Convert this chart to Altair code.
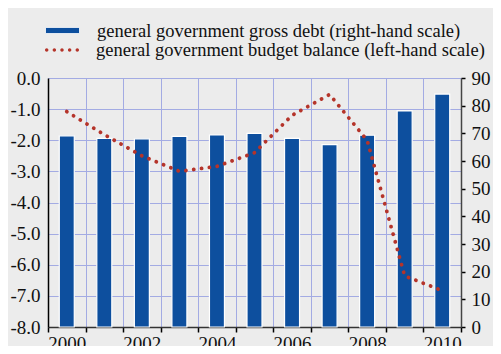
import altair as alt
import pandas as pd

years = [2000, 2001, 2002, 2003, 2004, 2005, 2006, 2007, 2008, 2009, 2010]
gross_debt = [69.1, 68.2, 68.0, 68.9, 69.4, 70.0, 68.2, 65.9, 69.3, 78.1, 84.2]
budget_balance = [-1.08, -1.82, -2.5, -3.0, -2.84, -2.4, -1.2, -0.53, -2.0, -6.36, -6.83]

debt_label = "general government gross debt (right-hand scale)"
bal_label = "general government budget balance (left-hand scale)"

df = pd.DataFrame({
    "year": years,
    "debt": gross_debt,
    "balance": budget_balance,
    "s_debt": [debt_label] * len(years),
    "s_bal": [bal_label] * len(years),
})

FONT = "Liberation Serif"
BLUE = "#0d4f9e"
RED = "#b5342a"
GRID = "#a3abe3"
BG = "#ececec"

xenc = alt.X(
    "year:O",
    title=None,
    scale=alt.Scale(paddingInner=0, paddingOuter=0),
    axis=alt.Axis(
        tickBand="extent",
        labelExpr="datum.value % 2 == 0 ? datum.label : ''",
        labelAngle=0,
        grid=True,
        gridColor=GRID,
        gridWidth=1,
        tickColor="black",
        tickSize=5,
        tickWidth=1.5,
        domainColor="#333333",
        domainWidth=1.5,
        labelFontSize=19,
        labelColor="#111111",
        labelPadding=2,
    ),
)

rect_path = "M-1,-0.18H1V0.18H-1Z"
r = 0.1
dots = ""
for cx in [-0.9, -0.45, 0.0, 0.45, 0.9]:
    dots += f"M{cx - r},0a{r},{r} 0 1,0 {2 * r},0a{r},{r} 0 1,0 {-2 * r},0"

bars = alt.Chart(df).mark_bar(size=15, stroke="white", strokeWidth=1.2).encode(
    x=xenc,
    y=alt.Y(
        "debt:Q",
        title=None,
        scale=alt.Scale(domain=[0, 90], nice=False),
        axis=alt.Axis(
            orient="right",
            values=list(range(0, 91, 10)),
            grid=False,
            tickColor="black",
            tickSize=4,
            tickWidth=1.5,
            domainColor="#444444",
            domainWidth=1.5,
            labelFontSize=19,
            labelColor="#111111",
            labelPadding=6,
        ),
    ),
    color=alt.Color(
        "s_debt:N",
        scale=alt.Scale(range=[BLUE]),
        legend=alt.Legend(
            title=None,
            orient="none",
            legendX=-3,
            legendY=-65,
            symbolType=rect_path,
            symbolSize=1156,
            symbolStrokeColor="white",
            symbolStrokeWidth=0.8,
            labelFontSize=18.5,
            labelColor="#111111",
            labelLimit=500,
            labelOffset=17,
        ),
    ),
)

line = alt.Chart(df).mark_line(
    interpolate="linear",
    strokeWidth=3.8,
    strokeDash=[0.1, 7.8],
    strokeCap="round",
    strokeJoin="round",
).encode(
    x=xenc,
    y=alt.Y(
        "balance:Q",
        title=None,
        scale=alt.Scale(domain=[-8, 0], nice=False),
        axis=alt.Axis(
            orient="left",
            values=[0, -1, -2, -3, -4, -5, -6, -7, -8],
            labelExpr="(datum.value < 0 ? '-' : '') + format(abs(datum.value), '.1f')",
            grid=True,
            gridColor=GRID,
            gridWidth=1,
            ticks=False,
            domainColor="black",
            domainWidth=1.5,
            labelFontSize=19,
            labelColor="#111111",
            labelPadding=8,
        ),
    ),
    color=alt.Color(
        "s_bal:N",
        scale=alt.Scale(range=[RED]),
        legend=alt.Legend(
            title=None,
            orient="none",
            legendX=-3,
            legendY=-45,
            symbolType=dots,
            symbolSize=1156,
            symbolFillColor=RED,
            symbolStrokeWidth=0,
            labelFontSize=18.5,
            labelColor="#111111",
            labelLimit=500,
            labelOffset=17,
        ),
    ),
)

chart = (
    alt.layer(bars, line)
    .resolve_scale(y="independent", color="independent")
    .properties(
        width=413,
        height=249,
        background=BG,
        padding={"left": 40, "top": 70, "right": 32, "bottom": 19},
        autosize=alt.AutoSizeParams(type="none"),
    )
    .configure(font=FONT)
    .configure_axis(labelFont=FONT)
    .configure_legend(labelFont=FONT)
    .configure_view(stroke=None, fill=BG)
)

chart.save("out.html", embed_options={"renderer": "svg", "actions": False})
